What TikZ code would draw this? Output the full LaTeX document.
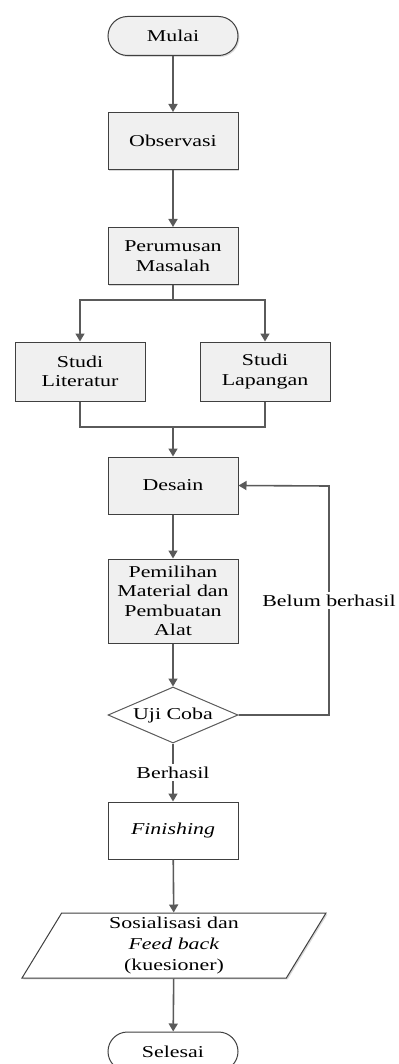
\documentclass[tikz,border=0pt]{standalone}
\usepackage{fontspec}
\setmainfont{Liberation Serif}[FakeStretch=1.32]
\usepackage{tikz}
\usetikzlibrary{shapes.geometric}
\usetikzlibrary{shadows}
\usetikzlibrary{arrows.meta}
\usepackage{color}
\definecolor{abutepi}{RGB}{64, 64, 64}
\definecolor{abugaris}{RGB}{90, 90, 90}
\definecolor{abuisi}{RGB}{240, 240, 240}

\tikzset{
  bayang/.style   ={drop shadow={shadow xshift=0.7pt, shadow yshift=-0.7pt, fill=black!30}},
  teks/.style     ={font=\fontsize{8.3}{9.7}\selectfont, align=center, inner sep=0pt},
  proses/.style   ={teks, rectangle, draw=abutepi, line width=0.5pt, fill=abuisi, bayang,
                    minimum width=65pt, minimum height=28.5pt},
  terminal/.style ={teks, rectangle, rounded corners=9.75pt, draw=abutepi, line width=0.5pt,
                    minimum width=65pt, minimum height=19.5pt},
  keputusan/.style={teks, diamond, aspect=2.3, draw=abugaris, line width=0.5pt, fill=white,
                    minimum width=65pt, minimum height=28pt},
  masukan/.style  ={teks, trapezium, trapezium left angle=55, trapezium right angle=125,
                    trapezium stretches body, draw=abutepi, line width=0.5pt, fill=white, bayang,
                    minimum width=152pt, minimum height=32.5pt},
  panah/.style    ={draw=abugaris, line width=0.8pt, -{Triangle[width=4.5pt,length=4pt]}},
  garis/.style    ={draw=abugaris, line width=0.8pt},
  ket/.style      ={teks, fill=white, inner sep=1.5pt}
}

\begin{document}
\begin{tikzpicture}[x=0.5pt, y=-0.5pt]
  \useasboundingbox (0,0) rectangle (399,1064);

  % simpul
  \node[terminal, fill=abuisi, bayang]       (mulai)   at (173,  36.0) {Mulai};
  \node[proses]                              (obs)     at (173, 141.0) {Observasi};
  \node[proses]                              (rumus)   at (173, 256.0) {Perumusan\\Masalah};
  \node[proses, minimum height=29.5pt]       (lit)     at ( 80, 371.5) {Studi\\Literatur};
  \node[proses, minimum height=29.5pt]       (lap)     at (265, 371.5) {Studi\\Lapangan};
  \node[proses]                              (desain)  at (173, 485.5) {Desain};
  \node[proses, minimum height=42pt]         (pilih)   at (173, 601.0) {Pemilihan\\Material dan\\Pembuatan\\Alat};
  \node[keputusan]                           (uji)     at (173, 715.0) {Uji Coba};
  \node[proses, fill=white]                  (finish)  at (173, 830.5) {\textit{Finishing}};
  \node[masukan, font=\fontsize{8.3}{10.4}\selectfont]
                                             (sosial)  at (174, 945.5) {Sosialisasi dan\\\textit{Feed back}\\(kuesioner)};
  \node[terminal, fill=white]                (selesai) at (173,1051.5) {Selesai};

  \coordinate (cabang)  at (173, 300);
  \coordinate (gabung)  at (173, 427);
  \coordinate (balik)   at (329, 486);

  % garis penghubung
  \draw[panah] (mulai) -- (obs);
  \draw[panah] (obs) -- (rumus);
  \draw[garis] (rumus) -- (cabang);
  \draw[panah] (cabang) -| (lit);
  \draw[panah] (cabang) -| (lap);
  \draw[garis] (lit) |- (gabung);
  \draw[garis] (lap) |- (gabung);
  \draw[panah] (gabung) -- (desain);
  \draw[panah] (desain) -- (pilih);
  \draw[panah] (pilih) -- (uji);
  \draw[panah] (uji.east) -| (balik) node[ket, pos=0.75] {Belum berhasil} -- (desain.east);
  \draw[panah] (uji) -- (finish) node[ket, midway] {Berhasil};
  \draw[panah] (finish) -- (sosial);
  \draw[panah] (sosial) -- (selesai);
\end{tikzpicture}
\end{document}
